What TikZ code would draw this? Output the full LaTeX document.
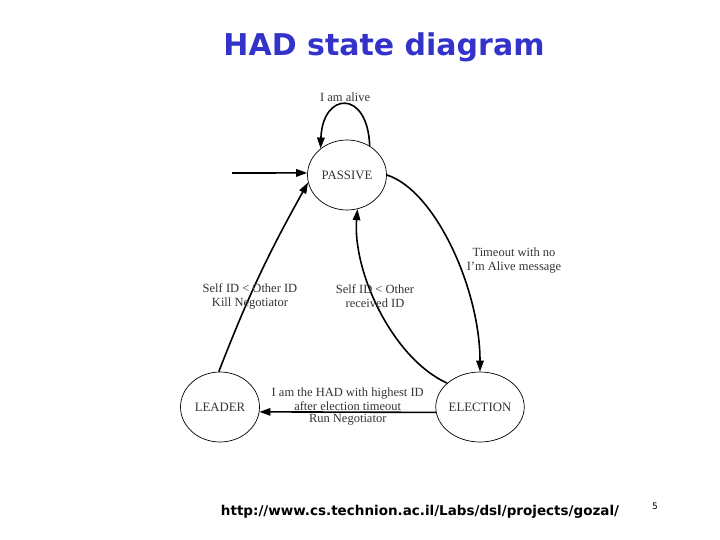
\documentclass[tikz,border=0pt]{standalone}
\usepackage{fontspec}
\setmainfont{Liberation Serif}
\newfontfamily\sansfam{DejaVu Sans}
\usetikzlibrary{shapes.geometric,arrows.meta}
\definecolor{titleblue}{HTML}{3333CC}
\begin{document}
\begin{tikzpicture}[x=1pt, y=1pt,
  state/.style={ellipse, draw, line width=0.7pt, minimum width=79pt, minimum height=70pt, inner sep=0pt, text=black!80, font=\fontsize{12.8}{14}\selectfont},
  trans/.style={line width=1.6pt, -{Triangle[length=11pt,width=7.5pt]}},
  lbl/.style={align=center, text=black!80, font=\fontsize{12.5}{14}\selectfont}]
  \useasboundingbox (0,0) rectangle (720,-540);
  % Title
  \node[text=titleblue, font=\sansfam\bfseries\fontsize{30}{32}\selectfont] (title) at (384,-47) {HAD state diagram};
  % States
  \node[state] (passive) at (347,-175) {PASSIVE};
  \node[state] (leader) at (220,-407) {LEADER};
  \node[state] (election) at (480,-407) {ELECTION};
  % Transitions
  \coordinate (init) at (232,-173);
  \draw[trans] (init) -- (passive.177);
  \draw[trans] (passive.52) .. controls +(-2,57) and +(2,57) .. (passive.135) node[pos=0.5, above, lbl, inner sep=2.5pt] (alive) {I am alive};
  \draw[trans] (leader.92) to[bend left=4] (passive.191);
  \draw[trans] (passive.0) .. controls +(48,-15) and +(0,83) .. (election.90);
  \draw[trans] (election.144) .. controls +(-55,25) and +(-5,-62) .. (passive.-73);
  \draw[trans] (election.187) -- (leader.-7)
    node[pos=0.5, above, lbl, inner sep=1pt] (had) {I am the HAD with highest ID\\after election timeout}
    node[pos=0.5, below, lbl, inner sep=1pt] (run) {Run Negotiator};
  % Transition labels
  \node[lbl] (kill) at (250,-296) {Self ID < Other ID\\Kill Negotiator};
  \node[lbl] (recv) at (375,-296) {Self ID < Other\\received ID};
  \node[lbl] (timeout) at (514,-261) {Timeout with no\\I’m Alive message};
  % Footer
  \node[font=\sansfam\bfseries\fontsize{13.5}{15}\selectfont] (url) at (420,-512) {http://www.cs.technion.ac.il/Labs/dsl/projects/gozal/};
  \node[font=\sansfam\fontsize{9}{10}\selectfont] (page) at (655,-506) {5};
\end{tikzpicture}
\end{document}
